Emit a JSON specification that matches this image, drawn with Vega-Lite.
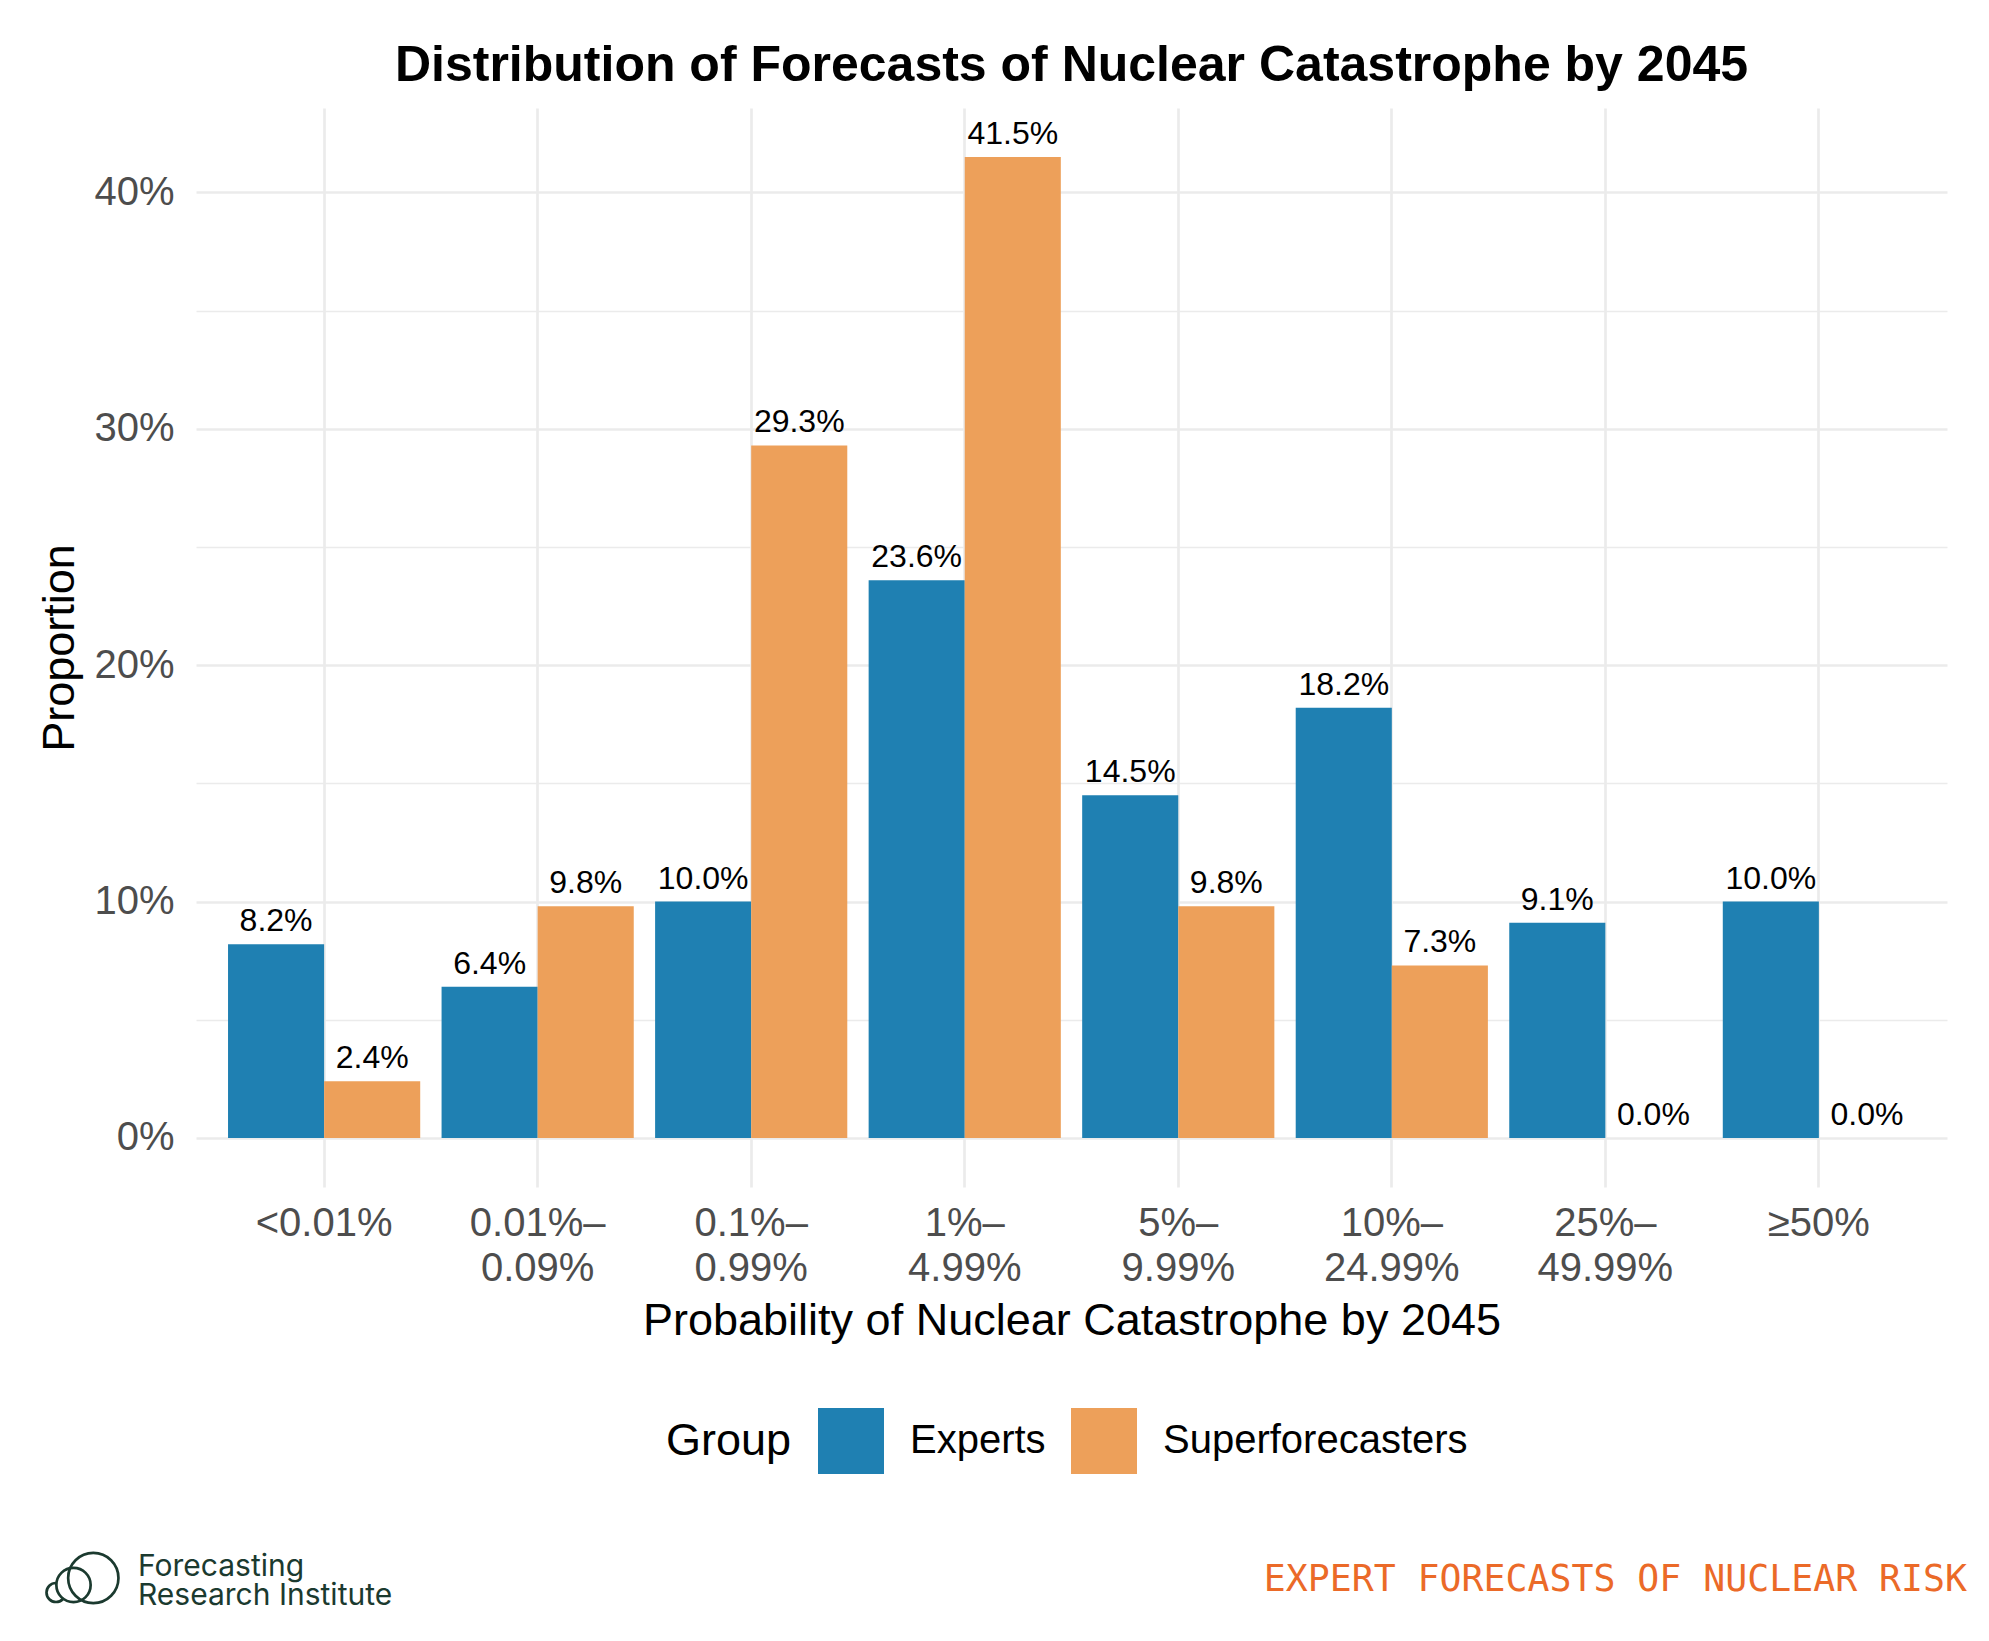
{
  "$schema": "https://vega.github.io/schema/vega-lite/v6.json",
  "width": 1751,
  "height": 1079,
  "autosize": {"type": "none"},
  "padding": {"left": 196, "top": 108, "right": 42, "bottom": 454},
  "background": "white",
  "config": {
    "view": {"stroke": null},
    "font": "Liberation Sans",
    "axis": {"labelFont": "Liberation Sans", "titleFont": "Liberation Sans"},
    "legend": {"labelFont": "Liberation Sans", "titleFont": "Liberation Sans"}
  },
  "title": {
    "text": "Distribution of Forecasts of Nuclear Catastrophe by 2045",
    "font": "Liberation Sans",
    "fontSize": 50,
    "fontWeight": "bold",
    "color": "#000000",
    "anchor": "middle",
    "frame": "group",
    "baseline": "alphabetic",
    "offset": 30,
    "dy": 53
  },
  "datasets": {
    "forecasts": [
      {"bin": "<0.01%", "group": "Experts", "p": 0.082},
      {"bin": "<0.01%", "group": "Superforecasters", "p": 0.024},
      {"bin": "0.01%–0.09%", "group": "Experts", "p": 0.064},
      {"bin": "0.01%–0.09%", "group": "Superforecasters", "p": 0.098},
      {"bin": "0.1%–0.99%", "group": "Experts", "p": 0.100},
      {"bin": "0.1%–0.99%", "group": "Superforecasters", "p": 0.293},
      {"bin": "1%–4.99%", "group": "Experts", "p": 0.236},
      {"bin": "1%–4.99%", "group": "Superforecasters", "p": 0.415},
      {"bin": "5%–9.99%", "group": "Experts", "p": 0.145},
      {"bin": "5%–9.99%", "group": "Superforecasters", "p": 0.098},
      {"bin": "10%–24.99%", "group": "Experts", "p": 0.182},
      {"bin": "10%–24.99%", "group": "Superforecasters", "p": 0.073},
      {"bin": "25%–49.99%", "group": "Experts", "p": 0.091},
      {"bin": "25%–49.99%", "group": "Superforecasters", "p": 0.000},
      {"bin": "≥50%", "group": "Experts", "p": 0.100},
      {"bin": "≥50%", "group": "Superforecasters", "p": 0.000}
    ],
    "brand": [{"name": "Forecasting\nResearch Institute"}],
    "tagline": [{"note": "EXPERT FORECASTS OF NUCLEAR RISK"}]
  },
  "layer": [
    {
      "data": {"name": "forecasts"},
      "encoding": {
        "x": {
          "field": "bin",
          "type": "nominal",
          "sort": ["<0.01%", "0.01%–0.09%", "0.1%–0.99%", "1%–4.99%", "5%–9.99%", "10%–24.99%", "25%–49.99%", "≥50%"],
          "scale": {"paddingInner": 0.1, "paddingOuter": 0.15},
          "axis": {
            "title": "Probability of Nuclear Catastrophe by 2045",
            "titleFontSize": 45,
            "titleFontWeight": "normal",
            "titleColor": "#000000",
            "titleBaseline": "alphabetic",
            "titleY": 147,
            "labelExpr": "split(replace(datum.label, '–', '–|'), '|')",
            "labelFontSize": 40,
            "labelColor": "#4D4D4D",
            "labelLineHeight": 45,
            "labelPadding": 16,
            "labelAngle": 0,
            "ticks": false,
            "domain": false,
            "grid": true,
            "bandPosition": 0.5,
            "gridColor": "#EBEBEB",
            "gridWidth": 2.7
          }
        },
        "xOffset": {
          "field": "group",
          "type": "nominal",
          "sort": ["Experts", "Superforecasters"],
          "scale": {"paddingInner": 0, "paddingOuter": 0}
        }
      },
      "layer": [
        {
          "mark": {"type": "bar"},
          "encoding": {
            "y": {
              "field": "p",
              "type": "quantitative",
              "scale": {"domain": [-0.02075, 0.43575], "nice": false, "zero": false},
              "axis": {
                "values": [0, 0.1, 0.2, 0.3, 0.4],
                "format": ".0%",
                "title": "Proportion",
                "titleFontSize": 45,
                "titleFontWeight": "normal",
                "titleColor": "#000000",
                "titleBaseline": "alphabetic",
                "titleX": -123,
                "labelFontSize": 40,
                "labelColor": "#4D4D4D",
                "labelPadding": 22,
                "ticks": false,
                "domain": false,
                "grid": true,
                "gridColor": "#EBEBEB",
                "gridWidth": 2.7
              }
            },
            "y2": {"datum": 0},
            "color": {
              "field": "group",
              "type": "nominal",
              "scale": {"domain": ["Experts", "Superforecasters"], "range": ["#1F80B2", "#EDA05A"]},
              "legend": {
                "title": "Group",
                "orient": "none",
                "legendX": 470,
                "legendY": 1300,
                "direction": "horizontal",
                "titleOrient": "left",
                "titleAnchor": "middle",
                "titleBaseline": "middle",
                "titleFontSize": 45,
                "titleFontWeight": "normal",
                "titleColor": "#000000",
                "titlePadding": 26,
                "labelFontSize": 40,
                "labelColor": "#000000",
                "labelLimit": 600,
                "labelOffset": 26,
                "columnPadding": 25,
                "symbolType": "square",
                "symbolSize": 4356,
                "symbolStrokeWidth": 0,
                "symbolOpacity": 1
              }
            }
          }
        },
        {
          "mark": {"type": "text", "baseline": "alphabetic", "dy": -13, "fontSize": 32, "color": "#000000", "font": "Liberation Sans"},
          "encoding": {
            "y": {
              "field": "p",
              "type": "quantitative",
              "scale": {"domain": [-0.02075, 0.43575], "nice": false, "zero": false},
              "axis": {
                "values": [0.05, 0.15, 0.25, 0.35],
                "orient": "left",
                "labels": false,
                "ticks": false,
                "domain": false,
                "title": null,
                "grid": true,
                "gridColor": "#EBEBEB",
                "gridWidth": 1.3
              }
            },
            "text": {"field": "p", "type": "quantitative", "format": ".1%"}
          }
        }
      ],
      "resolve": {"axis": {"y": "independent"}}
    },
    {
      "data": {"name": "brand"},
      "mark": {"type": "point", "shape": "circle", "filled": true, "fill": "white", "stroke": "#1B3A2F", "strokeWidth": 2.7, "size": 361, "opacity": 1},
      "encoding": {
        "x": {"datum": -0.07995, "type": "quantitative", "scale": {"domain": [0, 1], "nice": false, "zero": false}, "axis": null},
        "y": {"datum": -0.19231, "type": "quantitative", "scale": {"domain": [-0.02075, 0.43575], "nice": false, "zero": false}, "axis": null}
      }
    },
    {
      "data": {"name": "brand"},
      "mark": {"type": "point", "shape": "circle", "filled": true, "fill": "white", "stroke": "#1B3A2F", "strokeWidth": 2.7, "size": 1176, "opacity": 1},
      "encoding": {
        "x": {"datum": -0.06996, "type": "quantitative", "scale": {"domain": [0, 1], "nice": false, "zero": false}, "axis": null},
        "y": {"datum": -0.18914, "type": "quantitative", "scale": {"domain": [-0.02075, 0.43575], "nice": false, "zero": false}, "axis": null}
      }
    },
    {
      "data": {"name": "brand"},
      "mark": {"type": "point", "shape": "circle", "filled": false, "stroke": "#1B3A2F", "strokeWidth": 2.7, "size": 2530, "opacity": 1},
      "encoding": {
        "x": {"datum": -0.05865, "type": "quantitative", "scale": {"domain": [0, 1], "nice": false, "zero": false}, "axis": null},
        "y": {"datum": -0.18618, "type": "quantitative", "scale": {"domain": [-0.02075, 0.43575], "nice": false, "zero": false}, "axis": null}
      }
    },
    {
      "data": {"name": "brand"},
      "mark": {"type": "text", "align": "left", "baseline": "alphabetic", "lineBreak": "\n", "lineHeight": 29, "font": "Inter", "fontSize": 30, "color": "#1B3A2F"},
      "encoding": {
        "x": {"datum": -0.03312, "type": "quantitative", "scale": {"domain": [0, 1], "nice": false, "zero": false}, "axis": null},
        "y": {"datum": -0.18512, "type": "quantitative", "scale": {"domain": [-0.02075, 0.43575], "nice": false, "zero": false}, "axis": null},
        "text": {"field": "name", "type": "nominal"}
      }
    },
    {
      "data": {"name": "tagline"},
      "mark": {"type": "text", "align": "right", "baseline": "alphabetic", "font": "DejaVu Sans Mono", "fontSize": 36.5, "color": "#EB6A28"},
      "encoding": {
        "x": {"datum": 1.01142, "type": "quantitative", "scale": {"domain": [0, 1], "nice": false, "zero": false}, "axis": null},
        "y": {"datum": -0.19168, "type": "quantitative", "scale": {"domain": [-0.02075, 0.43575], "nice": false, "zero": false}, "axis": null},
        "text": {"field": "note", "type": "nominal"}
      }
    }
  ],
  "resolve": {"scale": {"x": "independent"}, "axis": {"x": "independent"}}
}
